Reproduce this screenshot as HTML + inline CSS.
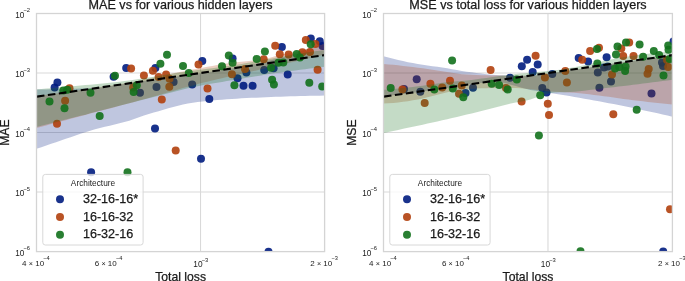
<!DOCTYPE html>
<html><head><meta charset="utf-8"><style>html,body{margin:0;padding:0;background:#fff;}body{width:685px;height:281px;overflow:hidden;font-family:"Liberation Sans",sans-serif;}svg{display:block;will-change:transform;}text{stroke:#1a1a1a;stroke-width:0.25px;}.t{stroke-width:0;}</style></head><body><svg width="685" height="281" viewBox="0 0 685 281" font-family="Liberation Sans, sans-serif" fill="#1a1a1a"><clipPath id="c1"><rect x="36.5" y="13.5" width="288.1" height="238.1"/></clipPath><g stroke="#d9d9d9" stroke-width="1.1"><line x1="36.5" y1="73.03" x2="324.6" y2="73.03"/><line x1="36.5" y1="132.55" x2="324.6" y2="132.55"/><line x1="36.5" y1="192.07" x2="324.6" y2="192.07"/><line x1="200.52" y1="13.5" x2="200.52" y2="251.6"/></g><g clip-path="url(#c1)"><circle cx="57.4" cy="82.5" r="4.0" fill="#001c7f" fill-opacity="0.9"/><circle cx="54.6" cy="87.5" r="4.0" fill="#001c7f" fill-opacity="0.9"/><circle cx="113.6" cy="76.8" r="4.0" fill="#001c7f" fill-opacity="0.9"/><circle cx="126.2" cy="68.1" r="4.0" fill="#001c7f" fill-opacity="0.9"/><circle cx="155.4" cy="68.1" r="4.0" fill="#001c7f" fill-opacity="0.9"/><circle cx="173.6" cy="82" r="4.0" fill="#001c7f" fill-opacity="0.9"/><circle cx="156.5" cy="87.1" r="4.0" fill="#001c7f" fill-opacity="0.9"/><circle cx="140" cy="92.7" r="4.0" fill="#001c7f" fill-opacity="0.9"/><circle cx="155" cy="128.4" r="4.0" fill="#001c7f" fill-opacity="0.9"/><circle cx="91.1" cy="172.2" r="4.0" fill="#001c7f" fill-opacity="0.9"/><circle cx="202.3" cy="61" r="4.0" fill="#001c7f" fill-opacity="0.9"/><circle cx="192.2" cy="84.5" r="4.0" fill="#001c7f" fill-opacity="0.9"/><circle cx="209.3" cy="99" r="4.0" fill="#001c7f" fill-opacity="0.9"/><circle cx="237.5" cy="78.3" r="4.0" fill="#001c7f" fill-opacity="0.9"/><circle cx="243.5" cy="85.8" r="4.0" fill="#001c7f" fill-opacity="0.9"/><circle cx="252.6" cy="85.8" r="4.0" fill="#001c7f" fill-opacity="0.9"/><circle cx="232.6" cy="58.5" r="4.0" fill="#001c7f" fill-opacity="0.9"/><circle cx="281.9" cy="47.1" r="4.0" fill="#001c7f" fill-opacity="0.9"/><circle cx="273.6" cy="68.3" r="4.0" fill="#001c7f" fill-opacity="0.9"/><circle cx="264.2" cy="69.9" r="4.0" fill="#001c7f" fill-opacity="0.9"/><circle cx="246.4" cy="72.4" r="4.0" fill="#001c7f" fill-opacity="0.9"/><circle cx="287.7" cy="74.6" r="4.0" fill="#001c7f" fill-opacity="0.9"/><circle cx="310.8" cy="38.6" r="4.0" fill="#001c7f" fill-opacity="0.9"/><circle cx="319.8" cy="41.3" r="4.0" fill="#001c7f" fill-opacity="0.9"/><circle cx="322.5" cy="46" r="4.0" fill="#001c7f" fill-opacity="0.9"/><circle cx="201" cy="158.7" r="4.0" fill="#001c7f" fill-opacity="0.9"/><circle cx="268.5" cy="251.7" r="4.0" fill="#001c7f" fill-opacity="0.9"/><path d="M36.50,89.50 L41.38,89.48 L46.27,89.44 L51.15,89.37 L56.03,89.27 L60.92,89.15 L65.80,89.01 L70.68,88.85 L75.56,88.67 L80.45,88.48 L85.33,88.26 L90.21,88.04 L95.10,87.80 L99.98,87.44 L104.86,86.89 L109.75,86.21 L114.63,85.44 L119.51,84.64 L124.39,83.84 L129.28,83.10 L134.16,82.42 L139.04,81.75 L143.93,81.07 L148.81,80.39 L153.69,79.71 L158.58,79.03 L163.46,78.34 L168.34,77.66 L173.23,76.97 L178.11,76.27 L182.99,75.58 L187.87,74.90 L192.76,74.23 L197.64,73.57 L202.52,72.90 L207.41,72.23 L212.29,71.54 L217.17,70.83 L222.06,70.10 L226.94,69.33 L231.82,68.53 L236.71,67.67 L241.59,66.77 L246.47,65.83 L251.35,64.84 L256.24,63.80 L261.12,62.71 L266.00,61.56 L270.89,60.37 L275.77,59.12 L280.65,57.82 L285.54,56.38 L290.42,54.79 L295.30,53.12 L300.18,51.44 L305.07,49.75 L309.95,48.03 L314.83,46.28 L319.72,44.48 L324.60,42.65 L324.60,95.60 L319.72,95.65 L314.83,95.73 L309.95,95.82 L305.07,95.93 L300.18,96.05 L295.30,96.19 L290.42,96.34 L285.54,96.50 L280.65,96.68 L275.77,96.86 L270.89,97.05 L266.00,97.24 L261.12,97.44 L256.24,97.64 L251.35,97.87 L246.47,98.11 L241.59,98.37 L236.71,98.65 L231.82,98.96 L226.94,99.30 L222.06,99.66 L217.17,100.05 L212.29,100.47 L207.41,100.93 L202.52,101.43 L197.64,101.98 L192.76,102.69 L187.87,103.57 L182.99,104.59 L178.11,105.73 L173.23,106.97 L168.34,108.30 L163.46,109.69 L158.58,111.13 L153.69,112.59 L148.81,114.06 L143.93,115.55 L139.04,117.30 L134.16,119.11 L129.28,120.72 L124.39,122.10 L119.51,123.36 L114.63,124.55 L109.75,125.70 L104.86,126.85 L99.98,128.05 L95.10,129.33 L90.21,130.73 L85.33,132.24 L80.45,133.84 L75.56,135.49 L70.68,137.18 L65.80,138.87 L60.92,140.53 L56.03,142.17 L51.15,143.83 L46.27,145.49 L41.38,147.15 L36.50,148.83Z" fill="#001c7f" fill-opacity="0.25"/><circle cx="69.5" cy="88.3" r="4.0" fill="#b1400d" fill-opacity="0.9"/><circle cx="65.1" cy="100.7" r="4.0" fill="#b1400d" fill-opacity="0.9"/><circle cx="57" cy="123.7" r="4.0" fill="#b1400d" fill-opacity="0.9"/><circle cx="131.1" cy="68.4" r="4.0" fill="#b1400d" fill-opacity="0.9"/><circle cx="152.9" cy="70.7" r="4.0" fill="#b1400d" fill-opacity="0.9"/><circle cx="143.9" cy="75.6" r="4.0" fill="#b1400d" fill-opacity="0.9"/><circle cx="158.6" cy="77" r="4.0" fill="#b1400d" fill-opacity="0.9"/><circle cx="166.1" cy="74.5" r="4.0" fill="#b1400d" fill-opacity="0.9"/><circle cx="169.5" cy="78.8" r="4.0" fill="#b1400d" fill-opacity="0.9"/><circle cx="169.3" cy="86.7" r="4.0" fill="#b1400d" fill-opacity="0.9"/><circle cx="133.2" cy="87.4" r="4.0" fill="#b1400d" fill-opacity="0.9"/><circle cx="161.8" cy="99.5" r="4.0" fill="#b1400d" fill-opacity="0.9"/><circle cx="175.7" cy="150.4" r="4.0" fill="#b1400d" fill-opacity="0.9"/><circle cx="198.5" cy="64.5" r="4.0" fill="#b1400d" fill-opacity="0.9"/><circle cx="207.5" cy="88.5" r="4.0" fill="#b1400d" fill-opacity="0.9"/><circle cx="231.9" cy="74.2" r="4.0" fill="#b1400d" fill-opacity="0.9"/><circle cx="275.2" cy="45.7" r="4.0" fill="#b1400d" fill-opacity="0.9"/><circle cx="279.8" cy="54.2" r="4.0" fill="#b1400d" fill-opacity="0.9"/><circle cx="288.6" cy="54.4" r="4.0" fill="#b1400d" fill-opacity="0.9"/><circle cx="263.7" cy="59.2" r="4.0" fill="#b1400d" fill-opacity="0.9"/><circle cx="245" cy="69.1" r="4.0" fill="#b1400d" fill-opacity="0.9"/><circle cx="305.8" cy="40" r="4.0" fill="#b1400d" fill-opacity="0.9"/><circle cx="315.4" cy="44" r="4.0" fill="#b1400d" fill-opacity="0.9"/><circle cx="302.4" cy="52.2" r="4.0" fill="#b1400d" fill-opacity="0.9"/><circle cx="310" cy="52" r="4.0" fill="#b1400d" fill-opacity="0.9"/><circle cx="317.6" cy="69.8" r="4.0" fill="#b1400d" fill-opacity="0.9"/><path d="M36.50,96.13 L41.38,95.47 L46.27,94.80 L51.15,94.12 L56.03,93.44 L60.92,92.75 L65.80,92.06 L70.68,91.36 L75.56,90.65 L80.45,89.94 L85.33,89.23 L90.21,88.51 L95.10,87.79 L99.98,87.07 L104.86,86.35 L109.75,85.63 L114.63,84.90 L119.51,84.14 L124.39,83.35 L129.28,82.53 L134.16,81.64 L139.04,80.69 L143.93,79.69 L148.81,78.64 L153.69,77.57 L158.58,76.50 L163.46,75.42 L168.34,74.36 L173.23,73.34 L178.11,72.36 L182.99,71.43 L187.87,70.50 L192.76,69.56 L197.64,68.63 L202.52,67.71 L207.41,66.81 L212.29,65.94 L217.17,65.10 L222.06,64.30 L226.94,63.55 L231.82,62.85 L236.71,62.21 L241.59,61.69 L246.47,61.25 L251.35,60.83 L256.24,60.34 L261.12,59.73 L266.00,58.81 L270.89,57.50 L275.77,56.08 L280.65,54.86 L285.54,53.86 L290.42,52.96 L295.30,52.02 L300.18,50.96 L305.07,49.72 L309.95,48.37 L314.83,46.90 L319.72,45.32 L324.60,43.64 L324.60,54.59 L319.72,55.74 L314.83,56.89 L309.95,58.04 L305.07,59.18 L300.18,60.32 L295.30,61.46 L290.42,62.59 L285.54,63.72 L280.65,64.85 L275.77,65.97 L270.89,67.09 L266.00,68.20 L261.12,69.30 L256.24,70.41 L251.35,71.51 L246.47,72.62 L241.59,73.73 L236.71,74.85 L231.82,75.98 L226.94,77.11 L222.06,78.23 L217.17,79.36 L212.29,80.50 L207.41,81.66 L202.52,82.86 L197.64,84.11 L192.76,85.40 L187.87,86.74 L182.99,88.10 L178.11,89.49 L173.23,90.90 L168.34,92.32 L163.46,93.74 L158.58,95.15 L153.69,96.55 L148.81,97.92 L143.93,99.27 L139.04,100.60 L134.16,101.92 L129.28,103.23 L124.39,104.54 L119.51,105.84 L114.63,107.14 L109.75,108.43 L104.86,109.73 L99.98,111.02 L95.10,112.31 L90.21,113.61 L85.33,114.90 L80.45,116.21 L75.56,117.52 L70.68,118.83 L65.80,120.15 L60.92,121.46 L56.03,122.78 L51.15,124.10 L46.27,125.42 L41.38,126.74 L36.50,128.06Z" fill="#b1400d" fill-opacity="0.25"/><circle cx="63.3" cy="90.6" r="4.0" fill="#12711c" fill-opacity="0.9"/><circle cx="67.2" cy="89.8" r="4.0" fill="#12711c" fill-opacity="0.9"/><circle cx="49.5" cy="101.5" r="4.0" fill="#12711c" fill-opacity="0.9"/><circle cx="64.5" cy="108.3" r="4.0" fill="#12711c" fill-opacity="0.9"/><circle cx="90.5" cy="92.7" r="4.0" fill="#12711c" fill-opacity="0.9"/><circle cx="99.7" cy="116" r="4.0" fill="#12711c" fill-opacity="0.9"/><circle cx="115" cy="75.7" r="4.0" fill="#12711c" fill-opacity="0.9"/><circle cx="160.4" cy="63.8" r="4.0" fill="#12711c" fill-opacity="0.9"/><circle cx="136.8" cy="85.2" r="4.0" fill="#12711c" fill-opacity="0.9"/><circle cx="133.6" cy="92" r="4.0" fill="#12711c" fill-opacity="0.9"/><circle cx="183" cy="66.1" r="4.0" fill="#12711c" fill-opacity="0.9"/><circle cx="167" cy="54.7" r="4.0" fill="#12711c" fill-opacity="0.9"/><circle cx="188.8" cy="73.1" r="4.0" fill="#12711c" fill-opacity="0.9"/><circle cx="222" cy="66.3" r="4.0" fill="#12711c" fill-opacity="0.9"/><circle cx="228.8" cy="55.6" r="4.0" fill="#12711c" fill-opacity="0.9"/><circle cx="232.6" cy="62.8" r="4.0" fill="#12711c" fill-opacity="0.9"/><circle cx="234.4" cy="85.3" r="4.0" fill="#12711c" fill-opacity="0.9"/><circle cx="264.9" cy="51.4" r="4.0" fill="#12711c" fill-opacity="0.9"/><circle cx="256.7" cy="58.9" r="4.0" fill="#12711c" fill-opacity="0.9"/><circle cx="278.4" cy="62.7" r="4.0" fill="#12711c" fill-opacity="0.9"/><circle cx="283.3" cy="62.5" r="4.0" fill="#12711c" fill-opacity="0.9"/><circle cx="271" cy="67.7" r="4.0" fill="#12711c" fill-opacity="0.9"/><circle cx="272.1" cy="79.7" r="4.0" fill="#12711c" fill-opacity="0.9"/><circle cx="273.9" cy="84.6" r="4.0" fill="#12711c" fill-opacity="0.9"/><circle cx="309.3" cy="82.8" r="4.0" fill="#12711c" fill-opacity="0.9"/><circle cx="322.2" cy="86.5" r="4.0" fill="#12711c" fill-opacity="0.9"/><circle cx="296.7" cy="53.9" r="4.0" fill="#12711c" fill-opacity="0.9"/><circle cx="299.9" cy="57.6" r="4.0" fill="#12711c" fill-opacity="0.9"/><circle cx="310.7" cy="44.3" r="4.0" fill="#12711c" fill-opacity="0.9"/><circle cx="127.5" cy="172.2" r="4.0" fill="#12711c" fill-opacity="0.9"/><path d="M36.50,89.26 L41.38,88.90 L46.27,88.52 L51.15,88.13 L56.03,87.73 L60.92,87.32 L65.80,86.90 L70.68,86.47 L75.56,86.03 L80.45,85.58 L85.33,85.12 L90.21,84.66 L95.10,84.19 L99.98,83.72 L104.86,83.23 L109.75,82.73 L114.63,82.21 L119.51,81.66 L124.39,81.07 L129.28,80.45 L134.16,79.77 L139.04,79.04 L143.93,78.29 L148.81,77.50 L153.69,76.70 L158.58,75.89 L163.46,75.09 L168.34,74.30 L173.23,73.52 L178.11,72.78 L182.99,72.07 L187.87,71.39 L192.76,70.73 L197.64,70.08 L202.52,69.44 L207.41,68.80 L212.29,68.16 L217.17,67.51 L222.06,66.84 L226.94,66.15 L231.82,65.44 L236.71,64.69 L241.59,63.90 L246.47,63.07 L251.35,62.21 L256.24,61.33 L261.12,60.44 L266.00,59.54 L270.89,58.64 L275.77,57.75 L280.65,56.88 L285.54,56.01 L290.42,55.13 L295.30,54.27 L300.18,53.47 L305.07,52.72 L309.95,52.00 L314.83,51.31 L319.72,50.66 L324.60,50.05 L324.60,66.84 L319.72,67.39 L314.83,67.96 L309.95,68.54 L305.07,69.15 L300.18,69.77 L295.30,70.40 L290.42,71.06 L285.54,71.72 L280.65,72.41 L275.77,73.11 L270.89,73.85 L266.00,74.61 L261.12,75.39 L256.24,76.19 L251.35,77.01 L246.47,77.83 L241.59,78.65 L236.71,79.48 L231.82,80.30 L226.94,81.10 L222.06,81.89 L217.17,82.68 L212.29,83.48 L207.41,84.32 L202.52,85.21 L197.64,86.18 L192.76,87.22 L187.87,88.34 L182.99,89.51 L178.11,90.73 L173.23,91.98 L168.34,93.25 L163.46,94.53 L158.58,95.80 L153.69,97.06 L148.81,98.30 L143.93,99.53 L139.04,100.77 L134.16,102.02 L129.28,103.27 L124.39,104.53 L119.51,105.79 L114.63,107.06 L109.75,108.32 L104.86,109.59 L99.98,110.85 L95.10,112.11 L90.21,113.37 L85.33,114.63 L80.45,115.87 L75.56,117.11 L70.68,118.34 L65.80,119.57 L60.92,120.80 L56.03,122.02 L51.15,123.24 L46.27,124.45 L41.38,125.67 L36.50,126.88Z" fill="#12711c" fill-opacity="0.25"/><line x1="36.90" y1="96.65" x2="324.6" y2="55.11" stroke="#000" stroke-width="2.1" stroke-dasharray="7.6 3.48"/></g><rect x="36.5" y="13.5" width="288.1" height="238.1" fill="none" stroke="#d4d4d4" stroke-width="1.3"/><text x="180.6" y="9.2" font-size="12.6" text-anchor="middle">MAE vs for various hidden layers</text><text x="180.6" y="280.5" font-size="12.2" text-anchor="middle">Total loss</text><text transform="translate(9.1,132.6) rotate(-90)" font-size="12.2" text-anchor="middle">MAE</text><text x="30.1" y="17.5" font-size="8.2" text-anchor="end" class="t">10<tspan font-size="5.8" dx="-0.9" dy="-5.4">−2</tspan></text><text x="30.1" y="77.0" font-size="8.2" text-anchor="end" class="t">10<tspan font-size="5.8" dx="-0.9" dy="-5.4">−3</tspan></text><text x="30.1" y="136.6" font-size="8.2" text-anchor="end" class="t">10<tspan font-size="5.8" dx="-0.9" dy="-5.4">−4</tspan></text><text x="30.1" y="196.1" font-size="8.2" text-anchor="end" class="t">10<tspan font-size="5.8" dx="-0.9" dy="-5.4">−5</tspan></text><text x="30.1" y="255.6" font-size="8.2" text-anchor="end" class="t">10<tspan font-size="5.8" dx="-0.9" dy="-5.4">−6</tspan></text><text x="35.9" y="265.7" font-size="8" text-anchor="middle" class="t">4 <tspan font-size="7.2">×</tspan> 10<tspan font-size="5.6" dx="-0.8" dy="-5.7">−4</tspan></text><text x="108.5" y="265.7" font-size="8" text-anchor="middle" class="t">6 <tspan font-size="7.2">×</tspan> 10<tspan font-size="5.6" dx="-0.8" dy="-5.7">−4</tspan></text><text x="324.0" y="265.7" font-size="8" text-anchor="middle" class="t">2 <tspan font-size="7.2">×</tspan> 10<tspan font-size="5.6" dx="-0.8" dy="-5.7">−3</tspan></text><text x="200.8" y="267" font-size="8.3" text-anchor="middle" class="t">10<tspan font-size="5.8" dx="-0.9" dy="-5.4">−3</tspan></text><rect x="42.8" y="174.4" width="100.3" height="70.6" rx="2.5" fill="#fff" fill-opacity="0.8" stroke="#d4d4d4" stroke-width="0.9"/><text x="93.0" y="185.8" font-size="8.3" text-anchor="middle" class="t">Architecture</text><circle cx="60.0" cy="199.20" r="4" fill="#001c7f" fill-opacity="0.9"/><text x="82.9" y="202.80" font-size="12.6">32-16-16*</text><circle cx="60.0" cy="216.95" r="4" fill="#b1400d" fill-opacity="0.9"/><text x="82.9" y="220.55" font-size="12.6">16-16-32</text><circle cx="60.0" cy="234.70" r="4" fill="#12711c" fill-opacity="0.9"/><text x="82.9" y="238.30" font-size="12.6">16-32-16</text><clipPath id="c2"><rect x="383.5" y="13.5" width="288.9" height="238.1"/></clipPath><g stroke="#d9d9d9" stroke-width="1.1"><line x1="383.5" y1="73.03" x2="672.4" y2="73.03"/><line x1="383.5" y1="132.55" x2="672.4" y2="132.55"/><line x1="383.5" y1="192.07" x2="672.4" y2="192.07"/><line x1="547.98" y1="13.5" x2="547.98" y2="251.6"/></g><g clip-path="url(#c2)"><circle cx="416.7" cy="79.2" r="4.0" fill="#001c7f" fill-opacity="0.9"/><circle cx="404" cy="89" r="4.0" fill="#001c7f" fill-opacity="0.9"/><circle cx="420.3" cy="91.8" r="4.0" fill="#001c7f" fill-opacity="0.9"/><circle cx="465.5" cy="93" r="4.0" fill="#001c7f" fill-opacity="0.9"/><circle cx="473" cy="87.7" r="4.0" fill="#001c7f" fill-opacity="0.9"/><circle cx="510" cy="77.8" r="4.0" fill="#001c7f" fill-opacity="0.9"/><circle cx="527.1" cy="59.7" r="4.0" fill="#001c7f" fill-opacity="0.9"/><circle cx="521.8" cy="66.3" r="4.0" fill="#001c7f" fill-opacity="0.9"/><circle cx="537.7" cy="64.5" r="4.0" fill="#001c7f" fill-opacity="0.9"/><circle cx="532.7" cy="72" r="4.0" fill="#001c7f" fill-opacity="0.9"/><circle cx="542.3" cy="88" r="4.0" fill="#001c7f" fill-opacity="0.9"/><circle cx="546.5" cy="92.5" r="4.0" fill="#001c7f" fill-opacity="0.9"/><circle cx="552.3" cy="73.9" r="4.0" fill="#001c7f" fill-opacity="0.9"/><circle cx="578.7" cy="57.9" r="4.0" fill="#001c7f" fill-opacity="0.9"/><circle cx="588.1" cy="61.4" r="4.0" fill="#001c7f" fill-opacity="0.9"/><circle cx="606.6" cy="57.2" r="4.0" fill="#001c7f" fill-opacity="0.9"/><circle cx="597.8" cy="72.4" r="4.0" fill="#001c7f" fill-opacity="0.9"/><circle cx="604" cy="67.5" r="4.0" fill="#001c7f" fill-opacity="0.9"/><circle cx="607.8" cy="66.5" r="4.0" fill="#001c7f" fill-opacity="0.9"/><circle cx="611" cy="81.5" r="4.0" fill="#001c7f" fill-opacity="0.9"/><circle cx="599.4" cy="87.7" r="4.0" fill="#001c7f" fill-opacity="0.9"/><circle cx="651.5" cy="93.5" r="4.0" fill="#001c7f" fill-opacity="0.9"/><circle cx="662" cy="62.5" r="4.0" fill="#001c7f" fill-opacity="0.9"/><circle cx="663" cy="66" r="4.0" fill="#001c7f" fill-opacity="0.9"/><circle cx="673.5" cy="41.5" r="4.0" fill="#001c7f" fill-opacity="0.9"/><circle cx="663.2" cy="251.4" r="4.0" fill="#001c7f" fill-opacity="0.9"/><path d="M383.50,56.24 L388.40,57.56 L393.29,58.82 L398.19,60.00 L403.09,61.10 L407.98,62.14 L412.88,63.11 L417.78,64.01 L422.67,64.85 L427.57,65.57 L432.47,66.20 L437.36,66.83 L442.26,67.54 L447.16,68.35 L452.05,69.20 L456.95,70.07 L461.85,70.90 L466.74,71.66 L471.64,72.31 L476.54,72.95 L481.43,73.57 L486.33,74.15 L491.23,74.64 L496.12,75.01 L501.02,75.23 L505.92,75.39 L510.81,75.53 L515.71,75.64 L520.61,75.73 L525.50,75.78 L530.40,75.80 L535.29,75.55 L540.19,74.98 L545.09,74.20 L549.98,73.37 L554.88,72.62 L559.78,71.93 L564.67,71.23 L569.57,70.50 L574.47,69.75 L579.36,69.00 L584.26,68.23 L589.16,67.45 L594.05,66.67 L598.95,65.90 L603.85,65.12 L608.74,64.36 L613.64,63.60 L618.54,62.86 L623.43,62.14 L628.33,61.43 L633.23,60.75 L638.12,60.08 L643.02,59.43 L647.92,58.78 L652.81,58.14 L657.71,57.51 L662.61,56.89 L667.50,56.28 L672.40,55.67 L672.40,116.66 L667.50,115.54 L662.61,114.43 L657.71,113.33 L652.81,112.25 L647.92,111.19 L643.02,110.13 L638.12,109.09 L633.23,108.07 L628.33,107.06 L623.43,106.06 L618.54,105.07 L613.64,104.11 L608.74,103.15 L603.85,102.22 L598.95,101.31 L594.05,100.41 L589.16,99.52 L584.26,98.65 L579.36,97.78 L574.47,96.94 L569.57,96.10 L564.67,95.28 L559.78,94.46 L554.88,93.70 L549.98,92.99 L545.09,92.30 L540.19,91.57 L535.29,90.78 L530.40,89.88 L525.50,88.76 L520.61,87.46 L515.71,86.10 L510.81,84.71 L505.92,83.26 L501.02,82.15 L496.12,82.14 L491.23,82.26 L486.33,82.49 L481.43,82.91 L476.54,83.43 L471.64,84.01 L466.74,84.72 L461.85,85.53 L456.95,86.36 L452.05,87.18 L447.16,87.93 L442.26,88.69 L437.36,89.43 L432.47,90.16 L427.57,90.87 L422.67,91.54 L417.78,92.19 L412.88,92.82 L407.98,93.44 L403.09,94.04 L398.19,94.62 L393.29,95.19 L388.40,95.73 L383.50,96.25Z" fill="#001c7f" fill-opacity="0.25"/><circle cx="402.4" cy="89.4" r="4.0" fill="#b1400d" fill-opacity="0.9"/><circle cx="430.4" cy="83.8" r="4.0" fill="#b1400d" fill-opacity="0.9"/><circle cx="442.2" cy="87.4" r="4.0" fill="#b1400d" fill-opacity="0.9"/><circle cx="450" cy="80.8" r="4.0" fill="#b1400d" fill-opacity="0.9"/><circle cx="424.7" cy="102.9" r="4.0" fill="#b1400d" fill-opacity="0.9"/><circle cx="461.8" cy="85.6" r="4.0" fill="#b1400d" fill-opacity="0.9"/><circle cx="459" cy="93.7" r="4.0" fill="#b1400d" fill-opacity="0.9"/><circle cx="490.6" cy="69.9" r="4.0" fill="#b1400d" fill-opacity="0.9"/><circle cx="506" cy="88" r="4.0" fill="#b1400d" fill-opacity="0.9"/><circle cx="535.6" cy="55.7" r="4.0" fill="#b1400d" fill-opacity="0.9"/><circle cx="544.9" cy="77.6" r="4.0" fill="#b1400d" fill-opacity="0.9"/><circle cx="566.9" cy="82.5" r="4.0" fill="#b1400d" fill-opacity="0.9"/><circle cx="521.6" cy="101.5" r="4.0" fill="#b1400d" fill-opacity="0.9"/><circle cx="547.8" cy="103.8" r="4.0" fill="#b1400d" fill-opacity="0.9"/><circle cx="549" cy="115" r="4.0" fill="#b1400d" fill-opacity="0.9"/><circle cx="565.3" cy="70.9" r="4.0" fill="#b1400d" fill-opacity="0.9"/><circle cx="582.2" cy="59.7" r="4.0" fill="#b1400d" fill-opacity="0.9"/><circle cx="590.1" cy="51" r="4.0" fill="#b1400d" fill-opacity="0.9"/><circle cx="599" cy="47.8" r="4.0" fill="#b1400d" fill-opacity="0.9"/><circle cx="612" cy="74.4" r="4.0" fill="#b1400d" fill-opacity="0.9"/><circle cx="623.2" cy="56" r="4.0" fill="#b1400d" fill-opacity="0.9"/><circle cx="621.3" cy="48.5" r="4.0" fill="#b1400d" fill-opacity="0.9"/><circle cx="629.2" cy="42.5" r="4.0" fill="#b1400d" fill-opacity="0.9"/><circle cx="633.5" cy="55.9" r="4.0" fill="#b1400d" fill-opacity="0.9"/><circle cx="648.7" cy="69" r="4.0" fill="#b1400d" fill-opacity="0.9"/><circle cx="647.5" cy="73.8" r="4.0" fill="#b1400d" fill-opacity="0.9"/><circle cx="667" cy="60" r="4.0" fill="#b1400d" fill-opacity="0.9"/><circle cx="668.2" cy="67" r="4.0" fill="#b1400d" fill-opacity="0.9"/><circle cx="613.3" cy="114.3" r="4.0" fill="#b1400d" fill-opacity="0.9"/><circle cx="670" cy="209.3" r="4.0" fill="#b1400d" fill-opacity="0.9"/><path d="M383.50,63.94 L388.40,64.38 L393.29,64.86 L398.19,65.37 L403.09,65.92 L407.98,66.49 L412.88,67.10 L417.78,67.72 L422.67,68.36 L427.57,69.06 L432.47,69.84 L437.36,70.61 L442.26,71.32 L447.16,72.07 L452.05,72.82 L456.95,73.53 L461.85,74.15 L466.74,74.61 L471.64,74.87 L476.54,75.06 L481.43,75.22 L486.33,75.36 L491.23,75.47 L496.12,75.55 L501.02,75.61 L505.92,75.66 L510.81,75.71 L515.71,75.75 L520.61,75.77 L525.50,75.79 L530.40,75.80 L535.29,75.55 L540.19,74.98 L545.09,74.20 L549.98,73.37 L554.88,72.62 L559.78,71.93 L564.67,71.23 L569.57,70.50 L574.47,69.75 L579.36,69.00 L584.26,68.23 L589.16,67.45 L594.05,66.67 L598.95,65.90 L603.85,65.12 L608.74,64.36 L613.64,63.60 L618.54,62.86 L623.43,62.14 L628.33,61.43 L633.23,60.75 L638.12,60.08 L643.02,59.43 L647.92,58.78 L652.81,58.14 L657.71,57.51 L662.61,56.89 L667.50,56.28 L672.40,55.67 L672.40,104.44 L667.50,103.97 L662.61,103.49 L657.71,102.98 L652.81,102.45 L647.92,101.91 L643.02,101.35 L638.12,100.78 L633.23,100.19 L628.33,99.59 L623.43,98.94 L618.54,98.25 L613.64,97.54 L608.74,96.85 L603.85,96.18 L598.95,95.57 L594.05,94.97 L589.16,94.37 L584.26,93.80 L579.36,93.27 L574.47,92.82 L569.57,92.47 L564.67,92.23 L559.78,92.05 L554.88,91.86 L549.98,91.60 L545.09,91.11 L540.19,90.42 L535.29,89.70 L530.40,89.13 L525.50,88.73 L520.61,88.34 L515.71,88.04 L510.81,87.90 L505.92,87.91 L501.02,87.95 L496.12,88.01 L491.23,88.09 L486.33,88.20 L481.43,88.33 L476.54,88.48 L471.64,88.64 L466.74,88.89 L461.85,89.42 L456.95,90.21 L452.05,91.19 L447.16,92.31 L442.26,93.52 L437.36,94.77 L432.47,96.00 L427.57,97.27 L422.67,98.56 L417.78,99.46 L412.88,100.33 L407.98,101.14 L403.09,101.86 L398.19,102.48 L393.29,102.96 L388.40,103.27 L383.50,103.40Z" fill="#b1400d" fill-opacity="0.25"/><circle cx="452.1" cy="60.5" r="4.0" fill="#12711c" fill-opacity="0.9"/><circle cx="390.7" cy="87.9" r="4.0" fill="#12711c" fill-opacity="0.9"/><circle cx="434.3" cy="89.5" r="4.0" fill="#12711c" fill-opacity="0.9"/><circle cx="452.8" cy="88.5" r="4.0" fill="#12711c" fill-opacity="0.9"/><circle cx="463.3" cy="97.2" r="4.0" fill="#12711c" fill-opacity="0.9"/><circle cx="491.7" cy="83.8" r="4.0" fill="#12711c" fill-opacity="0.9"/><circle cx="499.1" cy="84.9" r="4.0" fill="#12711c" fill-opacity="0.9"/><circle cx="507.7" cy="89.5" r="4.0" fill="#12711c" fill-opacity="0.9"/><circle cx="516.8" cy="79.5" r="4.0" fill="#12711c" fill-opacity="0.9"/><circle cx="540.2" cy="95.2" r="4.0" fill="#12711c" fill-opacity="0.9"/><circle cx="538.9" cy="135.6" r="4.0" fill="#12711c" fill-opacity="0.9"/><circle cx="597" cy="48.9" r="4.0" fill="#12711c" fill-opacity="0.9"/><circle cx="597.3" cy="63.4" r="4.0" fill="#12711c" fill-opacity="0.9"/><circle cx="617.5" cy="46.5" r="4.0" fill="#12711c" fill-opacity="0.9"/><circle cx="616" cy="54.5" r="4.0" fill="#12711c" fill-opacity="0.9"/><circle cx="615" cy="68.5" r="4.0" fill="#12711c" fill-opacity="0.9"/><circle cx="619.3" cy="67" r="4.0" fill="#12711c" fill-opacity="0.9"/><circle cx="625.6" cy="66.5" r="4.0" fill="#12711c" fill-opacity="0.9"/><circle cx="625.1" cy="70.9" r="4.0" fill="#12711c" fill-opacity="0.9"/><circle cx="626" cy="42.5" r="4.0" fill="#12711c" fill-opacity="0.9"/><circle cx="639.6" cy="44.6" r="4.0" fill="#12711c" fill-opacity="0.9"/><circle cx="643.1" cy="56.7" r="4.0" fill="#12711c" fill-opacity="0.9"/><circle cx="653.8" cy="51" r="4.0" fill="#12711c" fill-opacity="0.9"/><circle cx="659.1" cy="54.9" r="4.0" fill="#12711c" fill-opacity="0.9"/><circle cx="668.2" cy="45.6" r="4.0" fill="#12711c" fill-opacity="0.9"/><circle cx="668.5" cy="49.8" r="4.0" fill="#12711c" fill-opacity="0.9"/><circle cx="669.6" cy="59" r="4.0" fill="#12711c" fill-opacity="0.9"/><circle cx="663.5" cy="75.5" r="4.0" fill="#12711c" fill-opacity="0.9"/><circle cx="636.7" cy="109.7" r="4.0" fill="#12711c" fill-opacity="0.9"/><circle cx="580.5" cy="251.3" r="4.0" fill="#12711c" fill-opacity="0.9"/><path d="M383.50,89.86 L388.40,89.45 L393.29,89.00 L398.19,88.53 L403.09,88.02 L407.98,87.48 L412.88,86.92 L417.78,86.34 L422.67,85.74 L427.57,85.08 L432.47,84.32 L437.36,83.55 L442.26,82.84 L447.16,82.26 L452.05,81.77 L456.95,81.34 L461.85,80.91 L466.74,80.45 L471.64,79.91 L476.54,79.29 L481.43,78.62 L486.33,77.91 L491.23,77.20 L496.12,76.51 L501.02,75.87 L505.92,75.26 L510.81,74.67 L515.71,74.12 L520.61,73.62 L525.50,73.14 L530.40,72.66 L535.29,72.21 L540.19,71.77 L545.09,71.34 L549.98,70.86 L554.88,70.31 L559.78,69.67 L564.67,68.92 L569.57,68.09 L574.47,67.18 L579.36,66.22 L584.26,65.20 L589.16,64.16 L594.05,63.10 L598.95,62.04 L603.85,60.99 L608.74,59.97 L613.64,58.99 L618.54,58.07 L623.43,57.21 L628.33,56.44 L633.23,55.75 L638.12,55.09 L643.02,54.46 L647.92,53.85 L652.81,53.28 L657.71,52.73 L662.61,52.21 L667.50,51.71 L672.40,51.25 L672.40,79.78 L667.50,80.43 L662.61,81.07 L657.71,81.70 L652.81,82.33 L647.92,82.95 L643.02,83.57 L638.12,84.19 L633.23,84.80 L628.33,85.41 L623.43,86.01 L618.54,86.61 L613.64,87.20 L608.74,87.79 L603.85,88.36 L598.95,88.92 L594.05,89.51 L589.16,90.11 L584.26,90.70 L579.36,91.24 L574.47,91.69 L569.57,92.02 L564.67,92.21 L559.78,92.36 L554.88,92.61 L549.98,93.34 L545.09,94.48 L540.19,95.99 L535.29,97.85 L530.40,99.49 L525.50,100.67 L520.61,101.67 L515.71,102.61 L510.81,103.62 L505.92,104.77 L501.02,106.01 L496.12,107.30 L491.23,108.60 L486.33,109.87 L481.43,111.08 L476.54,112.27 L471.64,113.45 L466.74,114.62 L461.85,115.77 L456.95,116.92 L452.05,118.06 L447.16,119.18 L442.26,120.30 L437.36,121.41 L432.47,122.50 L427.57,123.59 L422.67,124.67 L417.78,125.74 L412.88,126.80 L407.98,127.84 L403.09,128.87 L398.19,129.90 L393.29,130.91 L388.40,131.91 L383.50,132.90Z" fill="#12711c" fill-opacity="0.25"/><line x1="383.90" y1="96.65" x2="672.4" y2="55.11" stroke="#000" stroke-width="2.1" stroke-dasharray="7.6 3.48"/></g><rect x="383.5" y="13.5" width="288.9" height="238.1" fill="none" stroke="#d4d4d4" stroke-width="1.3"/><text x="528.0" y="9.2" font-size="12.6" text-anchor="middle">MSE vs total loss for various hidden layers</text><text x="528.0" y="280.5" font-size="12.2" text-anchor="middle">Total loss</text><text transform="translate(356.1,132.6) rotate(-90)" font-size="12.2" text-anchor="middle">MSE</text><text x="377.1" y="17.5" font-size="8.2" text-anchor="end" class="t">10<tspan font-size="5.8" dx="-0.9" dy="-5.4">−2</tspan></text><text x="377.1" y="77.0" font-size="8.2" text-anchor="end" class="t">10<tspan font-size="5.8" dx="-0.9" dy="-5.4">−3</tspan></text><text x="377.1" y="136.6" font-size="8.2" text-anchor="end" class="t">10<tspan font-size="5.8" dx="-0.9" dy="-5.4">−4</tspan></text><text x="377.1" y="196.1" font-size="8.2" text-anchor="end" class="t">10<tspan font-size="5.8" dx="-0.9" dy="-5.4">−5</tspan></text><text x="377.1" y="255.6" font-size="8.2" text-anchor="end" class="t">10<tspan font-size="5.8" dx="-0.9" dy="-5.4">−6</tspan></text><text x="382.9" y="265.7" font-size="8" text-anchor="middle" class="t">4 <tspan font-size="7.2">×</tspan> 10<tspan font-size="5.6" dx="-0.8" dy="-5.7">−4</tspan></text><text x="455.7" y="265.7" font-size="8" text-anchor="middle" class="t">6 <tspan font-size="7.2">×</tspan> 10<tspan font-size="5.6" dx="-0.8" dy="-5.7">−4</tspan></text><text x="671.8" y="265.7" font-size="8" text-anchor="middle" class="t">2 <tspan font-size="7.2">×</tspan> 10<tspan font-size="5.6" dx="-0.8" dy="-5.7">−3</tspan></text><text x="548.3" y="267" font-size="8.3" text-anchor="middle" class="t">10<tspan font-size="5.8" dx="-0.9" dy="-5.4">−3</tspan></text><rect x="389.8" y="174.4" width="100.3" height="70.6" rx="2.5" fill="#fff" fill-opacity="0.8" stroke="#d4d4d4" stroke-width="0.9"/><text x="440.0" y="185.8" font-size="8.3" text-anchor="middle" class="t">Architecture</text><circle cx="407.0" cy="199.20" r="4" fill="#001c7f" fill-opacity="0.9"/><text x="429.9" y="202.80" font-size="12.6">32-16-16*</text><circle cx="407.0" cy="216.95" r="4" fill="#b1400d" fill-opacity="0.9"/><text x="429.9" y="220.55" font-size="12.6">16-16-32</text><circle cx="407.0" cy="234.70" r="4" fill="#12711c" fill-opacity="0.9"/><text x="429.9" y="238.30" font-size="12.6">16-32-16</text></svg></body></html>
